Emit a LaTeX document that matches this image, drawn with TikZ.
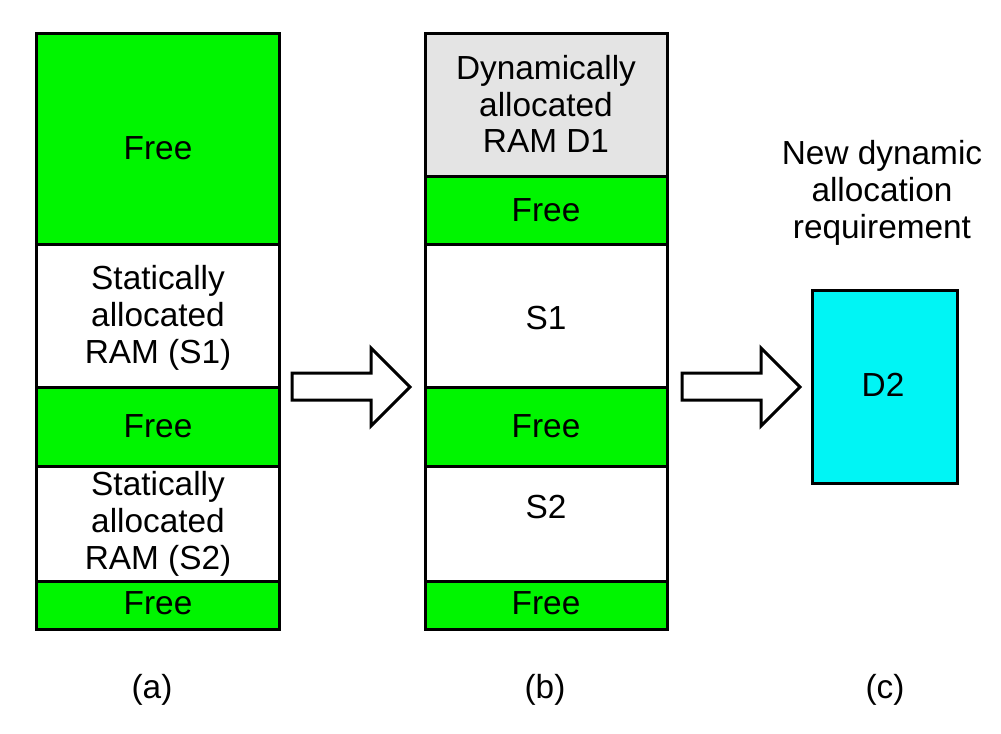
\documentclass[tikz,border=0pt]{standalone}
\usepackage{fontspec}
\setmainfont{Liberation Sans}
\definecolor{freegreen}{RGB}{0,245,0}
\definecolor{dyngray}{RGB}{228,228,228}
\definecolor{newcyan}{RGB}{0,245,245}
\begin{document}
\begin{tikzpicture}[x=1bp,y=-1bp,
  blk/.style={draw=black, line width=3bp, minimum width=242bp, inner sep=0pt, outer sep=0pt},
  freeblk/.style={blk, fill=freegreen},
  statblk/.style={blk, fill=white},
  dynblk/.style={blk, fill=dyngray},
  txt/.style={align=center, inner sep=0pt, font=\fontsize{33.5}{37}\selectfont},
  blockarrow/.style={draw=black, line width=3bp, fill=white, line join=miter}]
\useasboundingbox (0,0) rectangle (1001,734);
% column (a)
\node[freeblk, minimum height=211bp] (aF1) at (158,139.5) {};
\node[statblk, minimum height=142bp] (aS1) at (158,316) {};
\node[freeblk, minimum height=79bp]  (aF2) at (158,426.5) {};
\node[statblk, minimum height=115bp] (aS2) at (158,523.5) {};
\node[freeblk, minimum height=48bp]  (aF3) at (158,605) {};
\node[txt] (taF1) at (158,148) {Free};
\node[txt] (taS1) at (158,318) {Statically\\allocated\\RAM (S1)};
\node[txt] (taF2) at (158,426) {Free};
\node[txt] (taS2) at (158,524) {Statically\\allocated\\RAM (S2)};
\node[txt] (taF3) at (158,603) {Free};
% column (b)
\node[dynblk, minimum height=143bp]  (bD1) at (546,105.5) {};
\node[freeblk, minimum height=68bp]  (bF1) at (546,211) {};
\node[statblk, minimum height=142bp] (bS1) at (546,316) {};
\node[freeblk, minimum height=79bp]  (bF2) at (546,426.5) {};
\node[statblk, minimum height=115bp] (bS2) at (546,523.5) {};
\node[freeblk, minimum height=48bp]  (bF3) at (546,605) {};
\node[txt] (tbD1) at (546,104) {Dynamically\\allocated\\RAM D1};
\node[txt] (tbF1) at (546,210) {Free};
\node[txt] (tbS1) at (546,318) {S1};
\node[txt] (tbF2) at (546,426) {Free};
\node[txt] (tbS2) at (546,507) {S2};
\node[txt] (tbF3) at (546,603) {Free};
% column (c)
\node[txt] (tnew) at (882,193) {New dynamic\\allocation\\requirement};
\node[draw=black, line width=3bp, fill=newcyan, minimum width=145bp, minimum height=193bp, inner sep=0pt] (D2) at (885,386.5) {};
\node[txt] (tD2) at (883,385) {D2};
% block arrows
\draw[blockarrow] (292,373) -- (371,373) -- (371,348) -- (410,387) -- (371,426) -- (371,400) -- (292,400) -- cycle;
\draw[blockarrow] (682,373) -- (761,373) -- (761,348) -- (800,387) -- (761,426) -- (761,400) -- (682,400) -- cycle;
% captions
\node[txt] (capa) at (152,690) {(a)};
\node[txt] (capb) at (545,690) {(b)};
\node[txt] (capc) at (885,690) {(c)};
\end{tikzpicture}
\end{document}
